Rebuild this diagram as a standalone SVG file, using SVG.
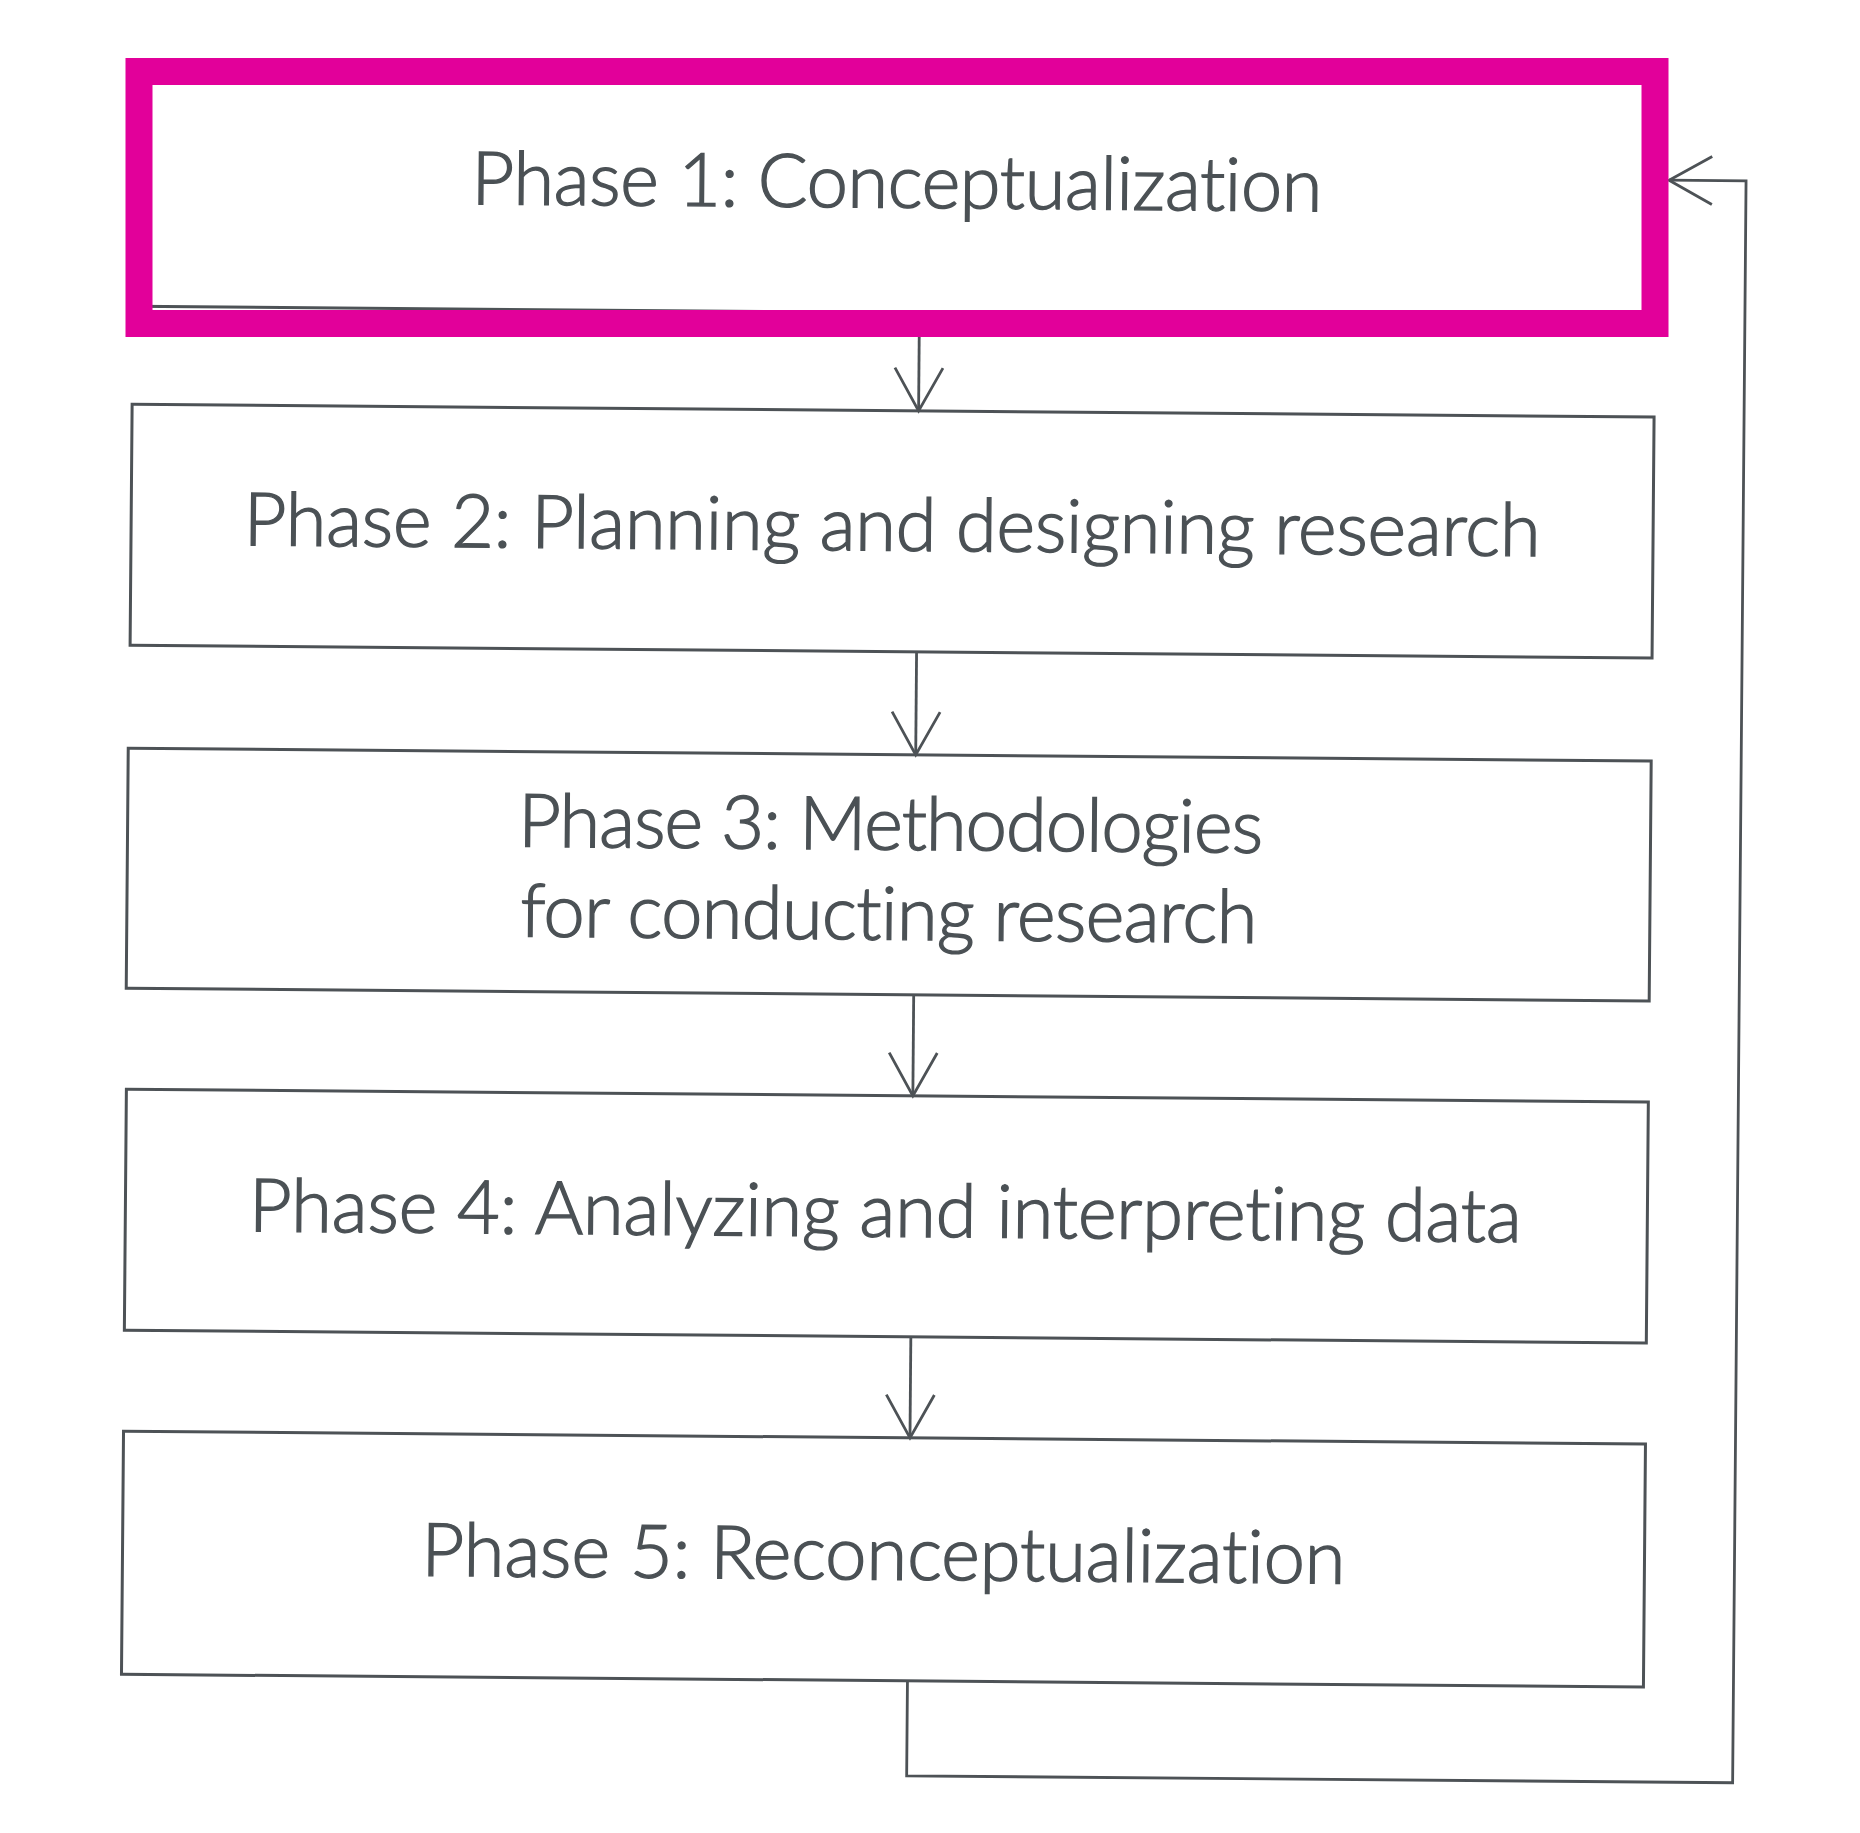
<svg xmlns="http://www.w3.org/2000/svg" width="1860" height="1833" viewBox="0 0 1860 1833">
  <style>
    .box { fill: none; stroke: #4d5256; stroke-width: 3; }
    .lbl { font-family: Lato, "Open Sans", "Liberation Sans", sans-serif; font-size: 74px; font-weight: 300; fill: #4b5155; stroke: #4b5155; stroke-width: 1.4; text-anchor: middle; font-variant-ligatures: none; font-feature-settings: "liga" 0, "clig" 0; }
    .conn { fill: none; stroke: #4d5256; stroke-width: 2.8; }
    .hl { fill: none; stroke: #E2009A; stroke-width: 27; }
  </style>
  <defs>
    <marker id="vhead" markerUnits="userSpaceOnUse" markerWidth="100" markerHeight="100" refX="0" refY="0" orient="auto" overflow="visible">
      <path d="M-43,-24 L0,0 L-43,24" fill="none" stroke="#4d5256" stroke-width="2.8"/>
    </marker>
  </defs>
  <rect x="0" y="0" width="1860" height="1833" fill="#ffffff"/>
  <g id="diagram" transform="rotate(0.48 930 900)">
    <g id="connectors">
      <path class="conn" d="M914.5,313 V411" marker-end="url(#vhead)"/>
      <path class="conn" d="M914.5,652 V755" marker-end="url(#vhead)"/>
      <path class="conn" d="M914.5,995 V1096" marker-end="url(#vhead)"/>
      <path class="conn" d="M914.5,1337 V1438" marker-end="url(#vhead)"/>
      <path class="conn" d="M914,1681 V1776 H1740 V174 H1663" marker-end="url(#vhead)"/>
    </g>
    <g id="phase1">
      <rect class="box" x="128" y="71" width="1522" height="242" fill="#ffffff"/>
      <text class="lbl" x="891" y="208" textLength="851">Phase 1: Conceptualization</text>
    </g>
    <g id="phase2">
      <rect class="box" x="128" y="411" width="1522" height="241"/>
      <text class="lbl" x="889" y="551" textLength="1297">Phase 2: Planning and designing research</text>
    </g>
    <g id="phase3">
      <rect class="box" x="127" y="755" width="1523" height="240"/>
      <text class="lbl" x="890" y="850" textLength="745">Phase 3: Methodologies</text>
      <text class="lbl" x="889" y="940" textLength="737">for conducting research</text>
    </g>
    <g id="phase4">
      <rect class="box" x="128" y="1096" width="1522" height="241"/>
      <text class="lbl" x="888" y="1237" textLength="1273">Phase 4: Analyzing and interpreting data</text>
    </g>
    <g id="phase5">
      <rect class="box" x="128" y="1438" width="1522" height="243"/>
      <text class="lbl" x="889" y="1580" textLength="924">Phase 5: Reconceptualization</text>
    </g>
  </g>
  <g id="highlight">
    <rect class="hl" x="139" y="71.5" width="1516" height="252"/>
  </g>
</svg>
